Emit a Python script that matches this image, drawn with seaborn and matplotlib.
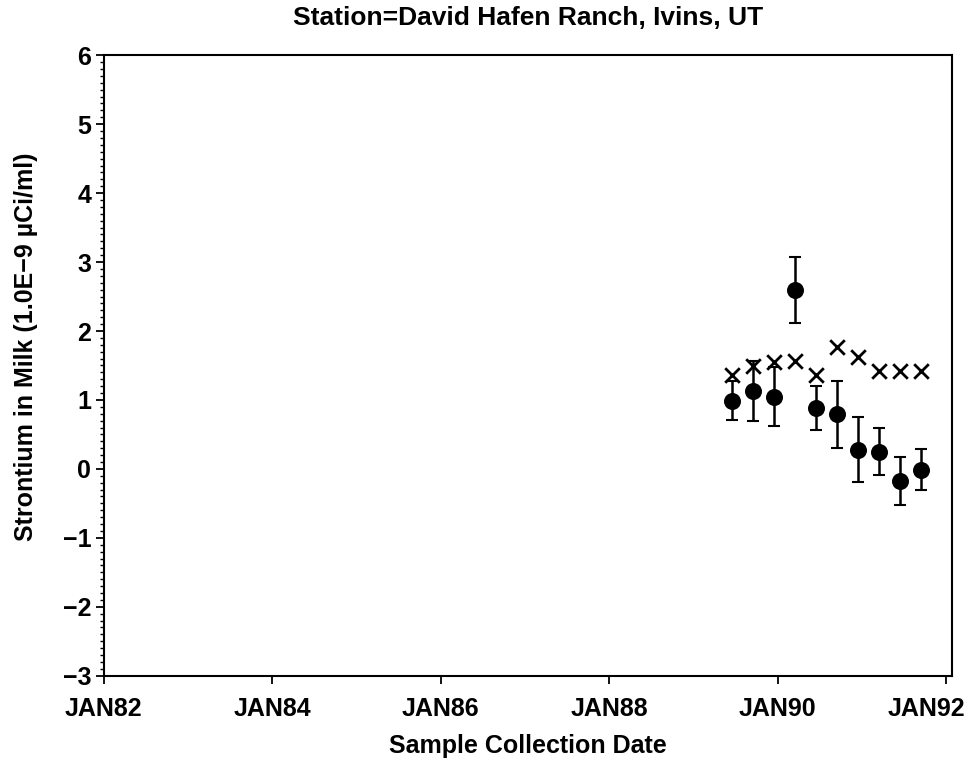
import pandas as pd
import numpy as np
import matplotlib
matplotlib.use("Agg")
import matplotlib.pyplot as plt
import matplotlib.dates as mdates
import matplotlib.transforms as mtransforms
from matplotlib.ticker import MultipleLocator
import seaborn as sns

title = "Station=David Hafen Ranch, Ivins, UT"

# Sample dates (quarterly) and measured values
dates = ["1989-06-15", "1989-09-15", "1989-12-15", "1990-03-15", "1990-06-15",
         "1990-09-15", "1990-12-15", "1991-03-15", "1991-06-15", "1991-09-15"]
sr90 = [0.99, 1.13, 1.05, 2.59, 0.88, 0.79, 0.28, 0.25, -0.18, -0.01]
sr90_err = [0.28, 0.43, 0.43, 0.48, 0.32, 0.49, 0.47, 0.34, 0.35, 0.30]
mda = [1.36, 1.49, 1.55, 1.56, 1.36, 1.77, 1.63, 1.42, 1.42, 1.42]

df = pd.DataFrame({"date": pd.to_datetime(dates), "value": sr90,
                   "err": sr90_err, "mda": mda})

sns.set_style("ticks")
plt.rcParams["font.family"] = ["Liberation Sans", "DejaVu Sans"]
plt.rcParams["font.weight"] = "bold"
for k in ["text.color", "axes.labelcolor", "xtick.color", "ytick.color", "axes.edgecolor"]:
    plt.rcParams[k] = "black"

fig = plt.figure(figsize=(9.78, 7.67), dpi=100)
ax = fig.add_axes([0.106, 0.119, 0.867, 0.809])

# Error bars
ax.errorbar(df["date"], df["value"], yerr=df["err"], fmt="none",
            ecolor="black", elinewidth=1.8, capsize=4, capthick=1.5, zorder=2)

# Measured values and detection limits
sns.scatterplot(data=df, x="date", y="value", ax=ax, color="black",
                marker="o", s=150, edgecolor="black", linewidth=0, zorder=3)
sns.scatterplot(data=df, x="date", y="mda", ax=ax, color="black",
                marker="x", s=110, linewidth=2.0, zorder=3)

# Axes formatting
ax.set_xlim(pd.Timestamp("1982-01-01"), pd.Timestamp("1992-01-25"))
ax.set_ylim(-3, 6)
ax.xaxis.set_major_locator(mdates.YearLocator(2))
ax.xaxis.set_major_formatter(mdates.DateFormatter("JAN%y"))
ax.yaxis.set_major_locator(MultipleLocator(1))
ax.yaxis.set_minor_locator(MultipleLocator(0.1))
ax.yaxis.set_major_formatter(plt.FuncFormatter(lambda v, p: f"{int(v)}".replace("-", "\u2212")))

for s in ax.spines.values():
    s.set_linewidth(1.5)
ax.tick_params(axis="both", which="major", length=6, width=1.3, labelsize=18)
ax.tick_params(axis="x", which="major", pad=9)
ax.tick_params(axis="y", which="major", pad=3)
ax.tick_params(axis="y", which="minor", length=3, width=1.0)

ax.set_title(title, fontsize=19, fontweight="bold", pad=22)
ax.set_xlabel("Sample Collection Date", fontsize=18, fontweight="bold", labelpad=10)
ax.set_ylabel("Strontium in Milk (1.0E\u22129 \u00b5Ci/ml)", fontsize=18,
              fontweight="bold")
ax.yaxis.set_label_coords(-0.077, 0.53)

# Shift last x tick label left so it stays inside the figure
fig.canvas.draw()
last = ax.get_xticklabels()[-1]
last.set_transform(last.get_transform() +
                   mtransforms.ScaledTranslation(-0.2, 0, fig.dpi_scale_trans))

plt.savefig("out.png", dpi=100)
